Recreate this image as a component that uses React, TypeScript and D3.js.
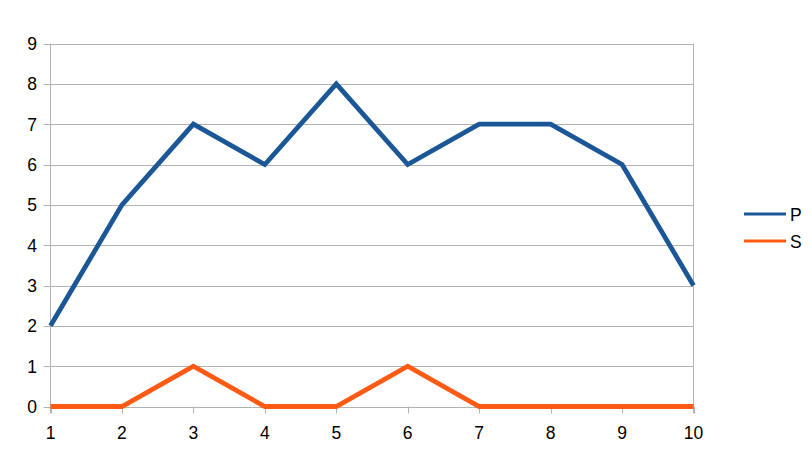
import React from 'react'
import * as d3 from 'd3'

const categories = ['1', '2', '3', '4', '5', '6', '7', '8', '9', '10']
const seriesP = [2, 5, 7, 6, 8, 6, 7, 7, 6, 3]
const seriesS = [0, 0, 1, 0, 0, 1, 0, 0, 0, 0]
const yTicks = [0, 1, 2, 3, 4, 5, 6, 7, 8, 9]

const series = [
    { name: 'P', values: seriesP, color: '#1b5797' },
    { name: 'S', values: seriesS, color: '#ff5a14' },
]

const App = () => {
    const width = 812,
        height = 452
    const left = 50.5,
        right = 693.5,
        top = 43.5,
        bottom = 406.5

    const x = d3.scalePoint<string>().domain(categories).range([left, right])
    const y = d3.scaleLinear().domain([0, 9]).range([bottom, top])

    const line = d3.line<number>()
        .x((_, i) => x(categories[i]) as number)
        .y(d => y(d))

    const font = '"Liberation Sans", Arial, sans-serif'

    return (
        <svg width={width} height={height} style={{ position: 'absolute', left: 0, top: 0 }}>
            <rect width={width} height={height} fill="white" />
            {/* gridlines + y ticks */}
            {yTicks.map(t => (
                <g key={t}>
                    <line x1={left - 7} x2={right} y1={Math.round(y(t)) + 0.5} y2={Math.round(y(t)) + 0.5} stroke="#b3b3b3" />
                    <text x={37} y={y(t) + 6.5} textAnchor="end" fontFamily={font} fontSize={17.5} fill="#000">{t}</text>
                </g>
            ))}
            <line x1={left} x2={left} y1={top} y2={bottom + 7} stroke="#b3b3b3" />
            <line x1={right} x2={right} y1={top} y2={bottom + 7} stroke="#b3b3b3" />
            {categories.map(c => (
                <g key={c}>
                    <line x1={Math.round(x(c) as number) + 0.5} x2={Math.round(x(c) as number) + 0.5} y1={bottom} y2={bottom + 7} stroke="#b3b3b3" />
                    <text x={x(c)} y={439} textAnchor="middle" fontFamily={font} fontSize={17.5} fill="#000">{c}</text>
                </g>
            ))}
            {series.map(s => (
                <path key={s.name} d={line(s.values) ?? ''} fill="none" stroke={s.color} strokeWidth={4.8} strokeLinejoin="miter" />
            ))}
            {series.map((s, i) => (
                <g key={s.name} transform={`translate(744,${214 + i * 27})`}>
                    <line x1={0} x2={42} y1={0} y2={0} stroke={s.color} strokeWidth={3} />
                    <text x={46} y={6.5} fontFamily={font} fontSize={17.5} fill="#000">{s.name}</text>
                </g>
            ))}
        </svg>
    )
}

export default App
